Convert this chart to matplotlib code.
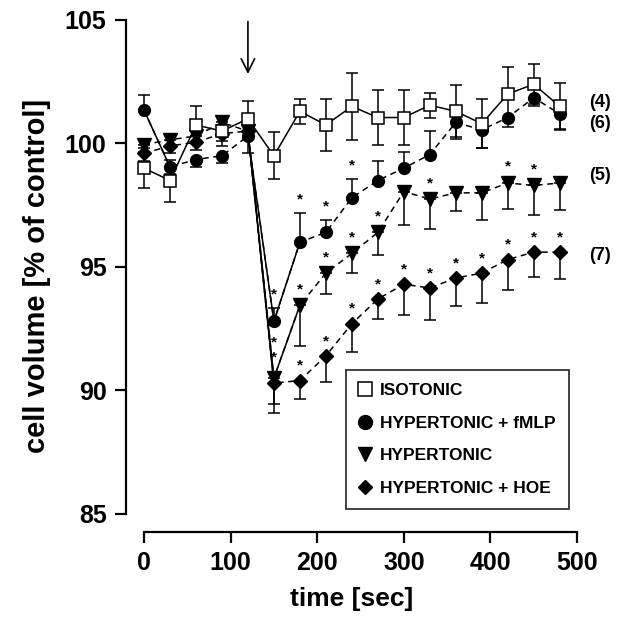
import numpy as np
import matplotlib
matplotlib.use('Agg')
import matplotlib.pyplot as plt
from matplotlib.lines import Line2D

plt.rcParams['font.family'] = ['Liberation Sans', 'DejaVu Sans']
plt.rcParams['font.weight'] = 'bold'

# sampling times (sec)
t = [0, 30, 60, 90, 120, 150, 180, 210, 240, 270, 300, 330, 360, 390, 420, 450, 480]

# ISOTONIC (open squares), symmetric SEM
iso = [99.0, 98.5, 100.75, 100.5, 101.0, 99.5, 101.3, 100.75, 101.5, 101.05, 101.05, 101.55,
       101.3, 100.8, 102.0, 102.4, 101.5]
iso_err = [0.8, 0.85, 0.75, 0.6, 0.7, 0.95, 0.5, 1.05, 1.35, 1.1, 1.1, 0.5, 1.05, 1.0, 1.1, 0.8, 0.95]

# HYPERTONIC + fMLP (filled circles), one sided SEM
fmlp = [101.35, 99.05, 99.35, 99.5, 100.3, 92.8, 96.0, 96.4, 97.8, 98.5, 99.0, 99.55,
        100.85, 100.55, 101.05, 101.85, 101.2]
fmlp_lo = [0, 0.3, 0.3, 0.3, 0.7, 0, 0, 0, 0, 0, 0, 0, 0.65, 0.75, 0.4, 0.35, 0.6]
fmlp_hi = [0.6, 0, 0, 0, 0, 0.55, 1.2, 0.5, 0.75, 0.8, 0.65, 0.95, 0, 0, 0, 0, 0]

# HYPERTONIC (down triangles), lower SEM
hyp = [99.95, 100.15, 100.3, 100.85, 100.5, 90.5, 93.45, 94.75, 95.55, 96.4, 98.05, 97.75,
       98.0, 98.0, 98.4, 98.3, 98.4]
hyp_lo = [0.3, 0.3, 0.3, 0.4, 0.3, 1.05, 1.65, 0.85, 0.8, 0.9, 1.35, 1.2, 0.75, 1.1, 1.05, 1.2, 1.1]

# HYPERTONIC + HOE (diamonds), lower SEM
hoe = [99.6, 99.9, 100.05, 100.4, 100.5, 90.3, 90.4, 91.4, 92.7, 93.7, 94.3, 94.15,
       94.55, 94.75, 95.3, 95.6, 95.6]
hoe_lo = [0.3, 0.3, 0.3, 0.3, 0.3, 1.2, 0.75, 1.05, 1.15, 0.8, 1.25, 1.3, 1.15, 1.2, 1.25, 1.0, 1.1]

# significance stars (indices into t)
fmlp_stars = [5, 6, 7, 8]
hyp_stars = [6, 7, 8, 9, 11, 14, 15]
hoe_stars = [6, 7, 8, 9, 10, 11, 12, 13, 14, 15, 16]

n_labels = ['(4)', '(6)', '(5)', '(7)']
n_label_y = [101.65, 100.8, 98.7, 95.45]

t = np.array(t)

fig = plt.figure(figsize=(6.17, 6.18), dpi=100)
ax = fig.add_axes([0.2042, 0.1392, 0.731, 0.8285])
ax.set_xlim(-20.8, 500)
ax.set_ylim(84.27, 105)

lw = 1.1
dash = (0, (4, 3))
ekw = dict(ecolor='black', elinewidth=lw, capsize=4.5, capthick=lw)

# dashed lines first, then solid pieces on top
ax.plot(t, fmlp, color='black', lw=lw, ls=dash, zorder=2)
ax.plot(t, hyp, color='black', lw=lw, ls=dash, zorder=2)
ax.plot(t, hoe, color='black', lw=lw, ls=dash, zorder=2)
ax.plot(t[0:2], fmlp[0:2], color='black', lw=lw, zorder=2)
ax.plot(t[4:7], fmlp[4:7], color='black', lw=lw, zorder=2)
ax.plot(t[4:7], hyp[4:7], color='black', lw=lw, zorder=2)
ax.plot(t[4:6], hoe[4:6], color='black', lw=lw, zorder=2)
ax.plot(t, iso, color='black', lw=lw, zorder=2)

ax.errorbar(t, hoe, yerr=[hoe_lo, np.zeros(len(t))], fmt='D', ms=7, mfc='black', mec='black',
            zorder=3, **ekw)
ax.errorbar(t, hyp, yerr=[hyp_lo, np.zeros(len(t))], fmt='v', ms=10.5, mfc='black', mec='black',
            zorder=3, **ekw)
ax.errorbar(t, fmlp, yerr=[fmlp_lo, fmlp_hi], fmt='o', ms=8.5, mfc='black', mec='black',
            zorder=3, **ekw)
ax.errorbar(t, iso, yerr=iso_err, fmt='s', ms=8, mfc='white', mec='black', mew=lw,
            zorder=4, **ekw)

star_kw = dict(ha='center', va='center', fontsize=11, fontweight='bold', zorder=5)
off = 0.45
for i in fmlp_stars:
    ax.text(t[i], fmlp[i] + fmlp_hi[i] + off + 0.1, '*', **star_kw)
for i in hyp_stars:
    ax.text(t[i], hyp[i] + off + 0.2, '*', **star_kw)
for i in hoe_stars:
    ax.text(t[i], hoe[i] + off + 0.15, '*', **star_kw)
# double star at 150 s
ax.text(t[5], hyp[5] + 1.45, '*', **star_kw)
ax.text(t[5], hyp[5] + 0.85, '*', **star_kw)

for lab, yy in zip(n_labels, n_label_y):
    ax.text(514, yy, lab, ha='left', va='center', fontsize=13, fontweight='bold', clip_on=False)

# stimulus arrow
ax.annotate('', xy=(120, 102.7), xytext=(120, 105.05),
            arrowprops=dict(arrowstyle='->', lw=1.2, color='black', mutation_scale=24),
            annotation_clip=False)

for s in ['top', 'right']:
    ax.spines[s].set_visible(False)
ax.spines['left'].set_bounds(85, 105)
ax.spines['bottom'].set_bounds(0, 500)
ax.spines['left'].set_linewidth(1.6)
ax.spines['bottom'].set_linewidth(1.6)
ax.set_xticks([0, 100, 200, 300, 400, 500])
ax.set_yticks([85, 90, 95, 100, 105])
ax.tick_params(width=1.6, length=8, labelsize=18, pad=6)
for lab in ax.get_xticklabels() + ax.get_yticklabels():
    lab.set_fontweight('bold')

ax.set_xlabel('time [sec]', fontsize=19, fontweight='bold', labelpad=8)
ax.set_ylabel('cell volume [% of control]', fontsize=21, fontweight='bold', labelpad=10)

handles = [
    Line2D([], [], ls='none', marker='s', ms=10, mfc='white', mec='black', mew=lw),
    Line2D([], [], ls='none', marker='o', ms=10, mfc='black', mec='black'),
    Line2D([], [], ls='none', marker='v', ms=10, mfc='black', mec='black'),
    Line2D([], [], ls='none', marker='D', ms=7, mfc='black', mec='black'),
]
labels = ['ISOTONIC', 'HYPERTONIC + fMLP', 'HYPERTONIC', 'HYPERTONIC + HOE']
leg = ax.legend(handles, labels, loc='lower right', bbox_to_anchor=(0.982, 0.045),
                borderaxespad=0, frameon=True, fancybox=False, handlelength=0.8,
                handletextpad=0.45, labelspacing=1.0, borderpad=0.75,
                prop={'size': 12.5, 'weight': 'bold'})
leg.get_frame().set_edgecolor('black')
leg.get_frame().set_linewidth(1.3)

fig.savefig('out.png', dpi=100)
